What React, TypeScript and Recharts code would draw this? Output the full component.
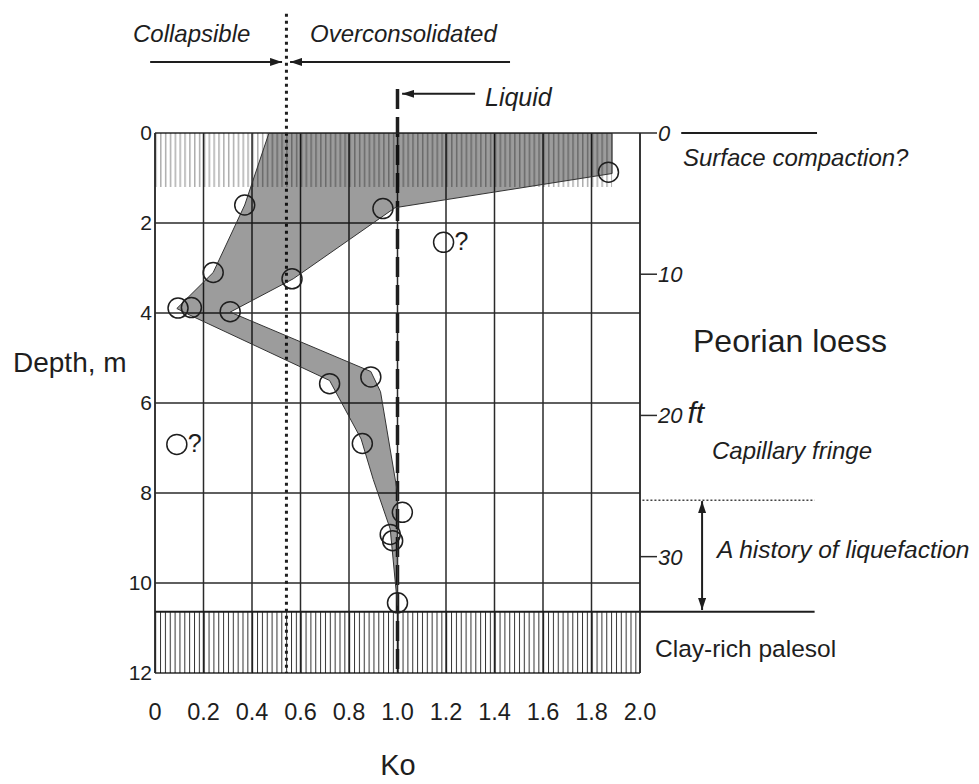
import { ComposedChart, Scatter, XAxis, YAxis, CartesianGrid, ReferenceLine, ReferenceArea } from 'recharts'

// Ko axis (horizontal) and depth axes
const koTicks = [0, 0.2, 0.4, 0.6, 0.8, 1.0, 1.2, 1.4, 1.6, 1.8, 2.0]
const depthTicks = [0, 2, 4, 6, 8, 10, 12]
const ftTicks = [0, 10, 20, 30]

// measured Ko values (open circles)
const circleKo = [1.87, 0.37, 0.94, 0.24, 0.565, 0.095, 0.15, 0.31, 0.72, 0.89, 0.855, 1.02, 0.97, 0.98, 1.0]
const circleDepth = [0.87, 1.6, 1.68, 3.1, 3.24, 3.89, 3.88, 3.97, 5.57, 5.42, 6.9, 8.43, 8.92, 9.06, 10.44]

// doubtful values, marked with "?"
const doubtKo = [1.19, 0.09]
const doubtDepth = [2.43, 6.92]

// shaded envelope, traced clockwise
const envelopeKo = [0.47, 1.885, 1.885, 0.99, 0.57, 0.31, 0.89, 0.93, 1.0, 1.0, 0.97, 0.9, 0.85, 0.72, 0.145, 0.09, 0.24, 0.37, 0.47]
const envelopeDepth = [0, 0, 0.9, 1.66, 3.24, 3.98, 5.3, 5.75, 8.0, 10.5, 8.8, 7.7, 6.8, 5.5, 4.05, 3.9, 3.1, 1.6, 0]

const circles = circleKo.map((ko, i) => ({ ko, depth: circleDepth[i] }))
const doubtful = doubtKo.map((ko, i) => ({ ko, depth: doubtDepth[i] }))
const envelope = envelopeKo.map((ko, i) => ({ ko, depth: envelopeDepth[i] }))

const FONT = '"Liberation Sans", Arial, Helvetica, sans-serif'
const INK = '#1e1e1e'

function OpenCircle(props: any) {
  return <circle cx={props.cx} cy={props.cy} r={10} fill="none" stroke={INK} strokeWidth={1.5} />
}

function DoubtCircle(props: any) {
  return (
    <g>
      <circle cx={props.cx} cy={props.cy} r={10} fill="none" stroke={INK} strokeWidth={1.5} />
      <text x={props.cx + 11} y={props.cy + 8} fontSize={25} fill={INK} fontFamily={FONT}>?</text>
    </g>
  )
}

const Hidden = () => <g />

function FtTick({ x, y, payload }: any) {
  return (
    <text x={x} y={y} dy="0.36em" fontSize={22} fontStyle="italic" fill={INK} fontFamily={FONT} textAnchor="start">
      {payload.value}
      {payload.value === 20 && <tspan dx={5} fontSize={30}>ft</tspan>}
    </text>
  )
}

export default function App() {
  const txt = { fontFamily: FONT, fill: INK }
  return (
    <div style={{ position: 'absolute', left: 0, top: 0, width: 979, height: 784, background: '#fff' }}>
      <ComposedChart width={979} height={784} margin={{ top: 133, right: 279, bottom: 51, left: 95 }}>
        <defs>
          <pattern id="topHatch" patternUnits="userSpaceOnUse" width={4.85} height={10}>
            <rect x={0} y={0} width={1.5} height={10} fill="rgba(0,0,0,0.32)" />
          </pattern>
          <pattern id="paleHatch" patternUnits="userSpaceOnUse" width={4.85} height={10}>
            <rect x={0} y={0} width={1} height={10} fill="rgba(0,0,0,0.8)" />
          </pattern>
          <marker id="arrowHead" viewBox="0 0 12 8" refX={12} refY={4} markerWidth={12} markerHeight={8} markerUnits="userSpaceOnUse" orient="auto-start-reverse">
            <path d="M0,0 L12,4 L0,8 z" fill={INK} />
          </marker>
        </defs>
        <CartesianGrid yAxisId="m" stroke="#2a2a2a" strokeWidth={1.5} />
        <XAxis
          type="number"
          dataKey="ko"
          domain={[0, 2]}
          ticks={koTicks}
          allowDataOverflow
          axisLine={false}
          tickLine={false}
          tickSize={0}
          tickMargin={30}
          height={60}
          interval={0}
          tickFormatter={(v: number) => (v === 0 ? '0' : v.toFixed(1))}
          tick={{ fontSize: 23.5, fill: INK, fontFamily: FONT }}
        />
        <YAxis
          yAxisId="m"
          type="number"
          dataKey="depth"
          domain={[0, 12]}
          ticks={depthTicks}
          reversed
          allowDataOverflow
          width={60}
          interval={0}
          axisLine={{ stroke: '#2a2a2a', strokeWidth: 1.5 }}
          tickLine={false}
          tickSize={0}
          tickMargin={3}
          tick={{ fontSize: 21, fill: INK, fontFamily: FONT }}
        />
        <YAxis
          yAxisId="ft"
          orientation="right"
          type="number"
          domain={[0, 38.24]}
          ticks={ftTicks}
          reversed
          allowDataOverflow
          width={60}
          interval={0}
          axisLine={{ stroke: '#2a2a2a', strokeWidth: 1.5 }}
          tickLine={{ stroke: '#2a2a2a', strokeWidth: 1.5 }}
          tickSize={17}
          tickMargin={1}
          tick={<FtTick />}
        />

        <ReferenceArea yAxisId="m" x1={0} x2={1.885} y1={0} y2={1.2} fill="url(#topHatch)" fillOpacity={1} stroke="none" />
        <ReferenceArea yAxisId="m" x1={0} x2={2} y1={10.64} y2={12} fill="url(#paleHatch)" fillOpacity={1} stroke="none" />

        <Scatter
          yAxisId="m"
          data={envelope}
          isAnimationActive={false}
          line={{ stroke: '#333', strokeWidth: 1, fill: '#000', fillOpacity: 0.39 }}
          lineType="joint"
          shape={Hidden}
        />

        <ReferenceLine yAxisId="m" segment={[{ x: 0.542, y: -2.65 }, { x: 0.542, y: 12 }]} ifOverflow="visible" stroke={INK} strokeWidth={3} strokeDasharray="3 4" />
        <ReferenceLine yAxisId="m" segment={[{ x: 1.0, y: -0.98 }, { x: 1.0, y: 12 }]} ifOverflow="visible" stroke={INK} strokeWidth={3.5} strokeDasharray="20 8" />

        <ReferenceLine yAxisId="m" segment={[{ x: -0.02, y: -1.58 }, { x: 0.524, y: -1.58 }]} ifOverflow="visible" stroke={INK} strokeWidth={2} markerEnd="url(#arrowHead)" />
        <ReferenceLine yAxisId="m" segment={[{ x: 1.464, y: -1.58 }, { x: 0.557, y: -1.58 }]} ifOverflow="visible" stroke={INK} strokeWidth={2} markerEnd="url(#arrowHead)" />
        <ReferenceLine yAxisId="m" segment={[{ x: 1.32, y: -0.87 }, { x: 1.019, y: -0.87 }]} ifOverflow="visible" stroke={INK} strokeWidth={2} markerEnd="url(#arrowHead)" />

        <ReferenceLine yAxisId="m" segment={[{ x: 2.17, y: 0 }, { x: 2.73, y: 0 }]} ifOverflow="visible" stroke={INK} strokeWidth={2} />
        <ReferenceLine yAxisId="m" segment={[{ x: 2.01, y: 8.16 }, { x: 2.72, y: 8.16 }]} ifOverflow="visible" stroke="#444" strokeWidth={1.5} strokeDasharray="2 2" />
        <ReferenceLine yAxisId="m" segment={[{ x: 2.256, y: 8.18 }, { x: 2.256, y: 10.6 }]} ifOverflow="visible" stroke={INK} strokeWidth={2} markerStart="url(#arrowHead)" markerEnd="url(#arrowHead)" />
        <ReferenceLine yAxisId="m" segment={[{ x: 0, y: 10.64 }, { x: 2.72, y: 10.64 }]} ifOverflow="visible" stroke={INK} strokeWidth={2} />

        <Scatter yAxisId="m" data={circles} isAnimationActive={false} shape={OpenCircle} />
        <Scatter yAxisId="m" data={doubtful} isAnimationActive={false} shape={DoubtCircle} />

        <text x={133} y={42} fontSize={24} fontStyle="italic" {...txt}>Collapsible</text>
        <text x={310} y={42} fontSize={24} fontStyle="italic" {...txt}>Overconsolidated</text>
        <text x={485} y={106} fontSize={25} fontStyle="italic" {...txt}>Liquid</text>
        <text x={13} y={372} fontSize={28} {...txt}>Depth, m</text>
        <text x={398} y={775} fontSize={29} textAnchor="middle" {...txt}>Ko</text>
        <text x={683} y={166} fontSize={24} fontStyle="italic" {...txt}>Surface compaction?</text>
        <text x={693} y={352} fontSize={32} {...txt}>Peorian loess</text>
        <text x={712} y={459} fontSize={24} fontStyle="italic" {...txt}>Capillary fringe</text>
        <text x={717} y={558} fontSize={24.5} fontStyle="italic" {...txt}>A history of liquefaction</text>
        <text x={655} y={657} fontSize={24.5} {...txt}>Clay-rich palesol</text>
      </ComposedChart>
    </div>
  )
}
